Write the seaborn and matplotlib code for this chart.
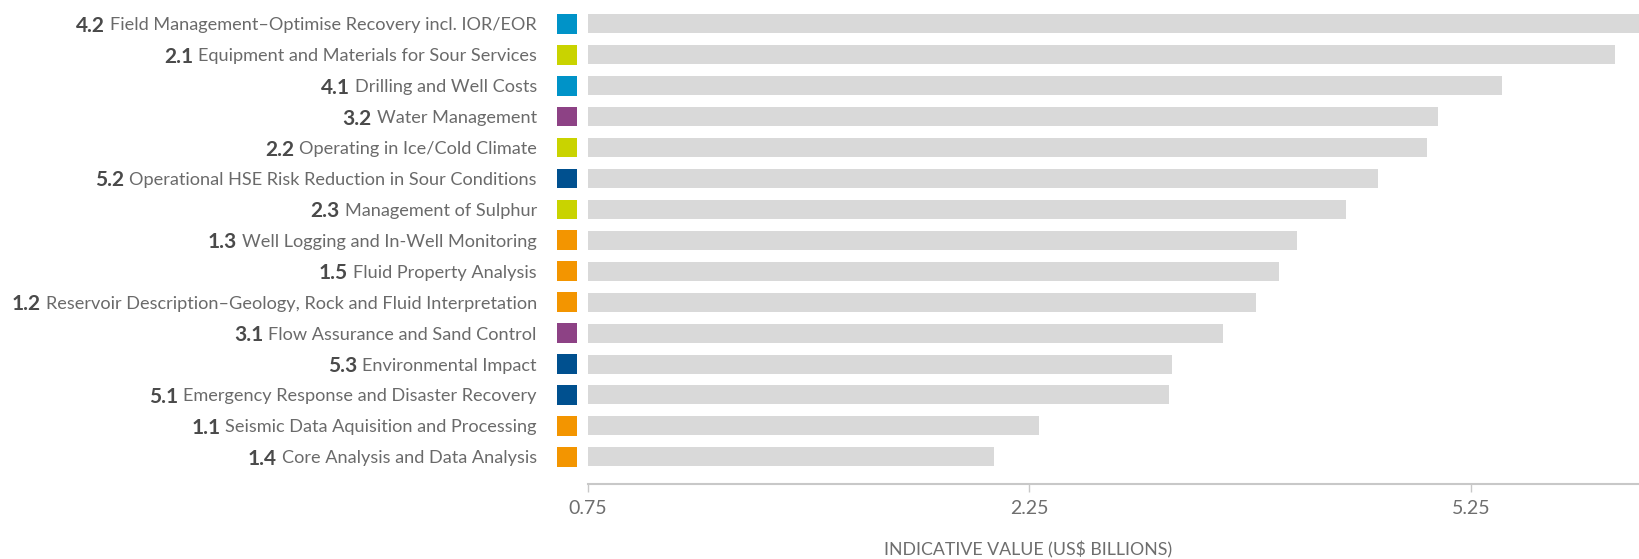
import numpy as np
import pandas as pd
import matplotlib
matplotlib.use("Agg")
import matplotlib.pyplot as plt
import matplotlib.transforms as mtransforms
from matplotlib.patches import Rectangle
import seaborn as sns

# ---- data ----
codes = ["4.2", "2.1", "4.1", "3.2", "2.2", "5.2", "2.3", "1.3", "1.5", "1.2",
         "3.1", "5.3", "5.1", "1.1", "1.4"]
names = [
    "Field Management\u2013Optimise Recovery incl. IOR/EOR",
    "Equipment and Materials for Sour Services",
    "Drilling and Well Costs",
    "Water Management",
    "Operating in Ice/Cold Climate",
    "Operational HSE Risk Reduction in Sour Conditions",
    "Management of Sulphur",
    "Well Logging and In-Well Monitoring",
    "Fluid Property Analysis",
    "Reservoir Description\u2013Geology, Rock and Fluid Interpretation",
    "Flow Assurance and Sand Control",
    "Environmental Impact",
    "Emergency Response and Disaster Recovery",
    "Seismic Data Aquisition and Processing",
    "Core Analysis and Data Analysis",
]
values = [6.45, 6.23, 5.46, 5.03, 4.95, 4.62, 4.40, 4.07, 3.95, 3.79,
          3.57, 3.22, 3.20, 2.32, 2.13]
groups = ["4", "2", "4", "3", "2", "5", "2", "1", "1", "1", "3", "5", "5", "1", "1"]
tick_values = [0.75, 2.25, 5.25]
tick_labels = ["0.75", "2.25", "5.25"]
x_title = "INDICATIVE VALUE (US$ BILLIONS)"

group_colors = {"1": "#F39500", "2": "#C9D300", "3": "#8D4285",
                "4": "#0093C8", "5": "#00508F"}

df = pd.DataFrame({"name": names, "value": values})

sns.set_theme(style="white")
plt.rcParams["font.family"] = ["Lato", "DejaVu Sans"]

W, H = 1639, 559
fig = plt.figure(figsize=(W / 100, H / 100), dpi=100)
left_px, bottom_px = 587.5, 483.7
ax = fig.add_axes([left_px / W, 1 - bottom_px / H, 1 - left_px / W, bottom_px / H])

sns.barplot(data=df, y="name", x="value", color="#D9D9D9", saturation=1,
            width=0.614, linewidth=0, errorbar=None, ax=ax)


def fwd(x):
    x = np.asarray(x, dtype=float)
    return np.where(x <= 2.25, (x - 0.75) / 1.5, 1 + (x - 2.25) / 3.0)


def inv(y):
    y = np.asarray(y, dtype=float)
    return np.where(y <= 1, 0.75 + 1.5 * y, 2.25 + 3.0 * (y - 1))


ax.set_xscale("function", functions=(fwd, inv))
ax.set_xlim(0.75, 6.393)
ax.set_ylim(14.87, -0.77)

for s in ["top", "right", "left"]:
    ax.spines[s].set_visible(False)
ax.spines["bottom"].set_color("#C8C8C8")
ax.spines["bottom"].set_linewidth(1.5)

ax.set_xticks(tick_values)
ax.set_xticklabels(tick_labels)
ax.xaxis.set_minor_locator(matplotlib.ticker.NullLocator())
ax.tick_params(axis="x", bottom=True, length=6, width=1, color="#C8C8C8",
               labelsize=14, labelcolor="#6E6E6E", pad=6)
ax.tick_params(axis="y", left=False, length=0, pad=36.5,
               labelsize=13.1, labelcolor="#6A6A6A")

ax.set_ylabel("")
ax.set_xlabel(x_title, fontsize=12.8, color="#6E6E6E")
ax.xaxis.set_label_coords((1028 - left_px) / (W - left_px), -(550 - bottom_px) / bottom_px)
ax.xaxis.label.set_va("center")

blend = mtransforms.blended_transform_factory(ax.transAxes, ax.transData)
sq_x = (557 - left_px) / (W - left_px)
sq_w = 20.3 / (W - left_px)
sq_h = 0.637
for i, g in enumerate(groups):
    ax.add_patch(Rectangle((sq_x, i - sq_h / 2), sq_w, sq_h, transform=blend,
                           facecolor=group_colors[g], edgecolor="none", clip_on=False))

fig.canvas.draw()
r = fig.canvas.get_renderer()
for i, lab in enumerate(ax.get_yticklabels()):
    bb = lab.get_window_extent(r)
    xf = ax.transAxes.inverted().transform((bb.x0 - 5, 0))[0]
    ax.text(xf, i, codes[i], transform=blend, ha="right", va="center_baseline",
            fontsize=15, fontweight="bold", color="#4A4A4A")

fig.savefig("out.png", dpi=100)
